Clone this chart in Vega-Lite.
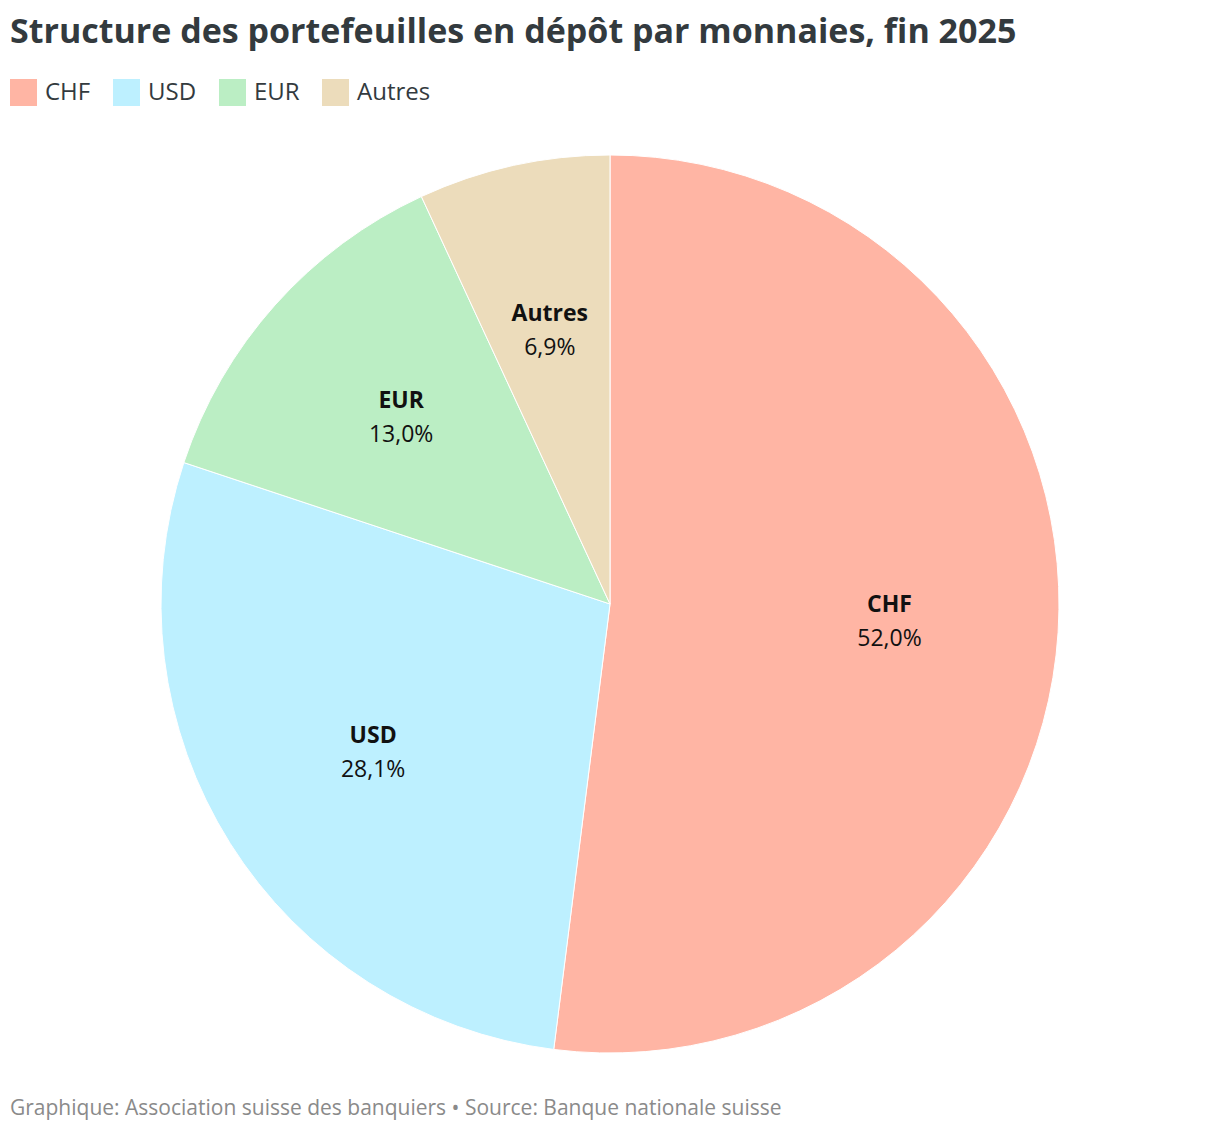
{
  "$schema": "https://vega.github.io/schema/vega-lite/v6.json",
  "description": "Structure des portefeuilles en dépôt par monnaies, fin 2025",
  "padding": {"left": 10, "top": 16, "right": 10, "bottom": 10},
  "background": "white",
  "title": {
    "text": "Structure des portefeuilles en dépôt par monnaies, fin 2025",
    "anchor": "start",
    "font": "Open Sans",
    "fontSize": 34,
    "fontWeight": "bold",
    "color": "#333a3e",
    "offset": 29
  },
  "data": {
    "values": [
      {"currency": "CHF", "share": 0.520},
      {"currency": "USD", "share": 0.281},
      {"currency": "EUR", "share": 0.130},
      {"currency": "Autres", "share": 0.069}
    ]
  },
  "vconcat": [
    {
      "width": 1200,
      "height": 900,
      "title": {
        "text": "Graphique: Association suisse des banquiers • Source: Banque nationale suisse",
        "orient": "bottom",
        "anchor": "start",
        "font": "Open Sans",
        "fontSize": 21,
        "fontWeight": "normal",
        "color": "#8a8a8a",
        "offset": 43
      },
      "encoding": {
        "theta": {"field": "share", "type": "quantitative", "stack": true},
        "order": {"field": "share", "sort": "descending"},
        "color": {
          "field": "currency",
          "type": "nominal",
          "scale": {
            "domain": ["CHF", "USD", "EUR", "Autres"],
            "range": ["#ffb5a4", "#bdf0ff", "#bbeec4", "#ecdcbb"]
          },
          "legend": {
            "title": null,
            "orient": "top",
            "direction": "horizontal",
            "symbolType": "square",
            "symbolSize": 729,
            "symbolStrokeWidth": 0,
            "symbolOpacity": 1,
            "labelFont": "Open Sans",
            "labelFontSize": 24,
            "labelColor": "#333a3e",
            "labelOffset": 8,
            "columnPadding": 22,
            "offset": 47
          }
        }
      },
      "layer": [
        {
          "mark": {"type": "arc", "outerRadius": 449, "stroke": "white", "strokeWidth": 1}
        },
        {
          "mark": {"type": "text", "radius": 280, "dy": -17, "font": "Open Sans", "fontSize": 23, "fontWeight": "bold", "baseline": "middle"},
          "encoding": {
            "text": {"field": "currency", "type": "nominal"},
            "color": {"value": "#111111"}
          }
        },
        {
          "mark": {"type": "text", "radius": 280, "dy": 17, "font": "Open Sans", "fontSize": 23, "fontWeight": "normal", "baseline": "middle"},
          "encoding": {
            "text": {"field": "share", "type": "quantitative", "format": ".1%"},
            "color": {"value": "#111111"}
          }
        }
      ]
    }
  ],
  "config": {
    "view": {"stroke": null},
    "locale": {
      "number": {"decimal": ",", "thousands": "'", "grouping": [3], "currency": ["", " CHF"]}
    }
  }
}
